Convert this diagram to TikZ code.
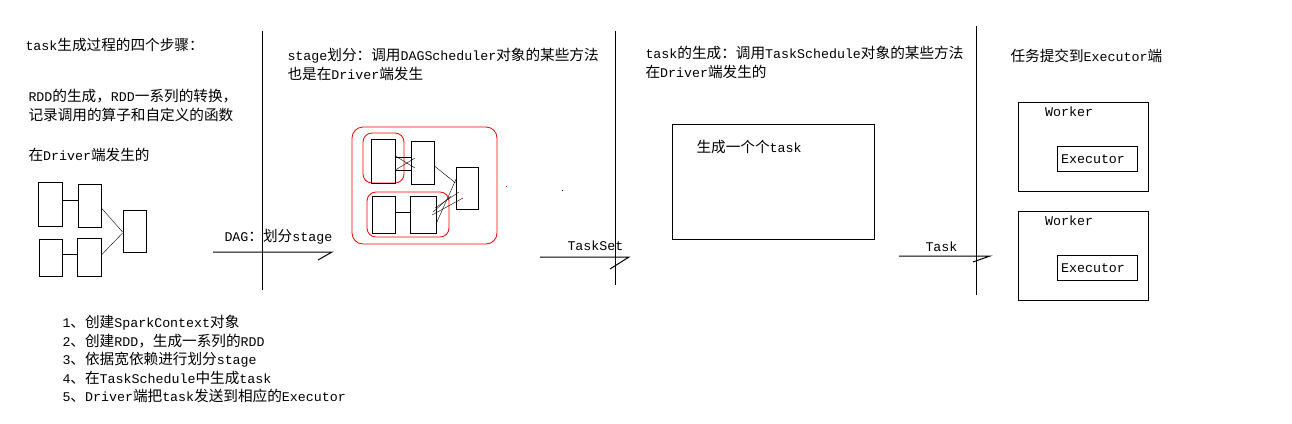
\documentclass[tikz,border=0pt]{standalone}
\usepackage{fontspec}
\setmainfont{Liberation Mono}
\newfontfamily\zhfont[Scale=1.1]{Noto Sans CJK SC}
\newcommand{\zh}[1]{{\zhfont #1}}
\tikzset{
  txt/.style={anchor=base west, inner sep=0pt, font=\fontsize{13.3}{18.5}\selectfont},
  blk/.style={draw, thick, inner sep=0pt},
  grp/.style={draw=red, thick, rounded corners=11pt, inner sep=0pt},
}
\begin{document}
\begin{tikzpicture}[x=1pt, y=-1pt, line width=1pt]
            \useasboundingbox (0,0) rectangle (1292,423);

            % draw the dividing lines
            \draw (262,31) -- (262,290);
            \draw (615,31) -- (615,285);
            \draw (976,26) -- (976,295);

            % first column: RDDs
            \node[txt] (title) at (25,50) {task\zh{生成过程的四个步骤：}};
            \node[txt] (rdda) at (28,101) {RDD\zh{的生成，}RDD\zh{一系列的转换，}};
            \node[txt] (rddb) at (28,120) {\zh{记录调用的算子和自定义的函数}};
            \node[txt] (drva) at (28,160) {\zh{在}Driver\zh{端发生的}};

            \node[blk, minimum width=24pt, minimum height=44pt] (r1) at (50,204) {};
            \node[blk, minimum width=23pt, minimum height=43pt] (r2) at (89.5,205.5) {};
            \node[blk, minimum width=23pt, minimum height=37pt] (r3) at (50.5,257.5) {};
            \node[blk, minimum width=24pt, minimum height=38pt] (r4) at (89,257) {};
            \node[blk, minimum width=23pt, minimum height=42pt] (r5) at (134.5,231) {};
            \draw ([yshift=4pt]r1.east) -- ([yshift=5.5pt]r2.west);
            \draw ([yshift=3.5pt]r3.east) -- ([yshift=3pt]r4.west);
            \draw[thin] ([yshift=-2.5pt]r2.east) -- ([yshift=-1pt]r5.west);
            \draw[thin] ([yshift=2pt]r4.east) -- ([yshift=-2pt]r5.west);

            % DAG arrow
            \node[txt] (dag) at (224,241) {DAG\zh{：划分}stage};
            \draw (213,252) -- (332,252) -- (318,260);

            % second column: stages
            \node[txt] (stga) at (287,60) {stage\zh{划分：调用}DAGScheduler\zh{对象的某些方法}};
            \node[txt] (stgb) at (287,79) {\zh{也是在}Driver\zh{端发生}};

            \node[grp, minimum width=145pt, minimum height=117pt] (all) at (424.5,185.5) {};
            \node[grp, rounded corners=9pt, minimum width=41pt, minimum height=50pt] (st1) at (383.5,158) {};
            \node[grp, rounded corners=9pt, minimum width=82pt, minimum height=45pt] (st2) at (408,214.5) {};
            \node[blk, minimum width=24pt, minimum height=44pt] (s1) at (383,161) {};
            \node[blk, minimum width=23pt, minimum height=43pt] (s2) at (422.5,162.5) {};
            \node[blk, minimum width=23pt, minimum height=37pt] (s3) at (383.5,214.5) {};
            \node[blk, minimum width=26pt, minimum height=37pt] (s4) at (423,214.5) {};
            \node[blk, minimum width=22pt, minimum height=42pt] (s5) at (467,188) {};
            \draw ([yshift=4pt]s1.east) -- ([yshift=5.5pt]s2.west);
            \draw ([yshift=-9pt]s1.east) -- ([yshift=-7.5pt]s2.west);
            \draw[thin] ([yshift=5pt]s1.east) -- (415,168);
            \draw[thin] ([yshift=-9pt]s1.east) -- (415,158);
            \draw[thin] ([yshift=-3.5pt]s2.east) -- ([yshift=5pt]s5.west);
            \draw ([yshift=2.5pt]s3.east) -- ([yshift=2.5pt]s4.west);
            % crossing lines into the last stage
            \draw[thin] (457,177) -- (436,224);
            \draw[thin] (432,215) -- (463,198);
            \draw[thin] (435,208) -- (459,192);
            \draw[thin] (433,212) -- (451,196);
            \fill[red] (505.5,185.5) rectangle (507,187);
            \fill (561.5,189.5) rectangle (562.5,190.5);

            % TaskSet arrow
            \node[txt] (tset) at (567,250) {TaskSet};
            \draw (540,257) -- (629,257) -- (610,269);

            % third column: tasks
            \node[txt] (tska) at (645,58) {task\zh{的生成：调用}TaskSchedule\zh{对象的某些方法}};
            \node[txt] (tskb) at (645,77) {\zh{在}Driver\zh{端发生的}};
            \node[blk, minimum width=202pt, minimum height=115pt] (gen) at (773,181.5) {};
            \node[txt] (gent) at (696,152) {\zh{生成一个个}task};

            % Task arrow
            \node[txt] (tsk) at (925,251) {Task};
            \draw (899,256) -- (990,256) -- (973,262);

            % fourth column: executors
            \node[txt] (sub) at (1010,61) {\zh{任务提交到}Executor\zh{端}};
            \foreach \n/\y in {1/147, 2/256} {
                \node[blk, minimum width=130pt, minimum height=89pt] (w\n) at (1083,\y) {};
                \node[txt] (wl\n) at ([xshift=27pt, yshift=-14pt]w\n.north west) {Worker};
                \node[blk, minimum width=80pt, minimum height=25pt] (e\n) at ([xshift=14pt, yshift=-11.5pt]w\n.center) {};
                \node[txt] (el\n) at ([xshift=4pt, yshift=-4.5pt]e\n.west) {Executor};
            }

            % list of steps
            \foreach \t [count=\i] in {{\zh{创建}SparkContext\zh{对象}},
                    {\zh{创建}RDD\zh{，生成一系列的}RDD},
                    {\zh{依据宽依赖进行划分}stage},
                    {\zh{在}TaskSchedule\zh{中生成}task},
                    {Driver\zh{端把}task\zh{发送到相应的}Executor}} {
                \node[txt] (step\i) at (62,309+18.5*\i) {\i\zh{、}\t};
            }
\end{tikzpicture}
\end{document}
